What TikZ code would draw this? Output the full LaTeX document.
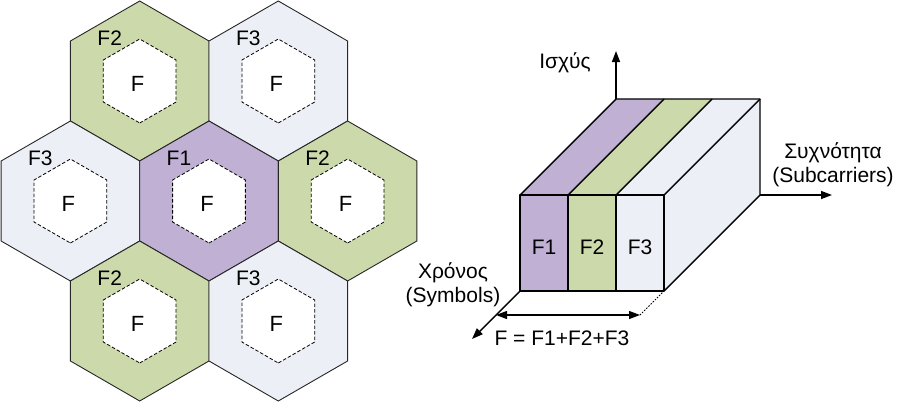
\documentclass[tikz,border=0pt]{standalone}
\usepackage{fontspec}
\setmainfont{Liberation Sans}
\usetikzlibrary{arrows.meta}
\definecolor{cpurple}{RGB}{191,176,212}
\definecolor{cgreen}{RGB}{204,218,171}
\definecolor{clight}{RGB}{236,239,245}
\begin{document}
\begin{tikzpicture}[x=1pt,y=-1pt,
  hexcell/.style={draw=black!85, line width=0.9pt, line join=miter},
  innerhex/.style={draw=black, fill=white, line width=0.8pt, dash pattern=on 3.5pt off 2pt},
  lbl/.style={font=\fontsize{21}{24}\selectfont, inner sep=0pt},
  flbl/.style={font=\fontsize{22}{24}\selectfont, inner sep=0pt},
  rlbl/.style={font=\fontsize{21}{24}\selectfont, inner sep=0pt, align=center},
  boxline/.style={draw=black, line width=1.4pt, line join=round},
  axis/.style={draw=black, line width=1.4pt, -{Triangle[length=11pt,width=8pt]}},
  dimarrow/.style={draw=black, line width=1.2pt, {Triangle[length=11pt,width=8pt]}-{Triangle[length=11pt,width=8pt]}},
]
\useasboundingbox (0,0) rectangle (897,402);

% ---------- hexagonal cells ----------
\foreach \cx/\cy/\col/\lab/\nm in {139.7/81/cgreen/F2/a, 278.3/81/clight/F3/b, 70.4/201/clight/F3/c, 209/201/cpurple/F1/d, 347.6/201/cgreen/F2/e, 139.7/321/cgreen/F2/f, 278.3/321/clight/F3/g}{
  \draw[hexcell, fill=\col, shift={(\cx,\cy)}] (90:80) -- (30:80) -- (-30:80) -- (-90:80) -- (-150:80) -- (150:80) -- cycle;
  \draw[innerhex, shift={(\cx,\cy)}] (90:42) -- (30:42) -- (-30:42) -- (-90:42) -- (-150:42) -- (150:42) -- cycle;
  \node[lbl] (lab\nm) at (\cx-30,\cy-43) {\lab};
  \node[flbl] (f\nm) at (\cx-2,\cy+3) {F};
}

% ---------- 3D block ----------
\coordinate (fa) at (520,195);
\coordinate (fb) at (568,195);
\coordinate (fc) at (616,195);
\coordinate (fd) at (664,195);
\coordinate (ga) at (520,291);
\coordinate (gb) at (568,291);
\coordinate (gc) at (616,291);
\coordinate (gd) at (664,291);
\coordinate (ba) at (616,99);
\coordinate (bb) at (664,99);
\coordinate (bc) at (712,99);
\coordinate (bd) at (760,99);
\coordinate (be) at (760,195);

\fill[cpurple] (fa) rectangle (gb);
\fill[cgreen] (fb) rectangle (gc);
\fill[clight] (fc) rectangle (gd);
\fill[cpurple] (fa) -- (fb) -- (bb) -- (ba) -- cycle;
\fill[cgreen] (fb) -- (fc) -- (bc) -- (bb) -- cycle;
\fill[clight] (fc) -- (fd) -- (bd) -- (bc) -- cycle;
\fill[clight] (fd) -- (bd) -- (be) -- (gd) -- cycle;

\draw[boxline] (fa) rectangle (gd);
\draw[boxline] (fb) -- (gb) (fc) -- (gc);
\draw[boxline] (fa) -- (ba) -- (bd) -- (be) -- (gd);
\draw[boxline] (fb) -- (bb) (fc) -- (bc) (fd) -- (bd);

% ---------- axes ----------
\coordinate (pw) at (616,51);
\coordinate (fq) at (832,195);
\coordinate (tm) at (472,339);
\draw[axis] (ba) -- (pw);
\draw[axis] (be) -- (fq);
\draw[axis] (ga) -- (tm);

\coordinate (dl) at (496,315);
\coordinate (dr) at (640,315);
\draw[dimarrow] (dr) -- (dl);
\draw[black, line width=0.8pt, dash pattern=on 1.5pt off 1.5pt] (dr) -- (gd);

% ---------- labels ----------
\node[rlbl] (lpw) at (565,63) {Ισχύς};
\node[rlbl] (lfq) at (833,165) {Συχνότητα\\(Subcarriers)};
\node[rlbl] (ltm) at (453,285) {Χρόνος\\(Symbols)};
\node[rlbl] (lsum) at (562,338) {F = F1+F2+F3};
\node[rlbl] (l1) at (544,247) {F1};
\node[rlbl] (l2) at (592,247) {F2};
\node[rlbl] (l3) at (640,247) {F3};
\end{tikzpicture}
\end{document}
